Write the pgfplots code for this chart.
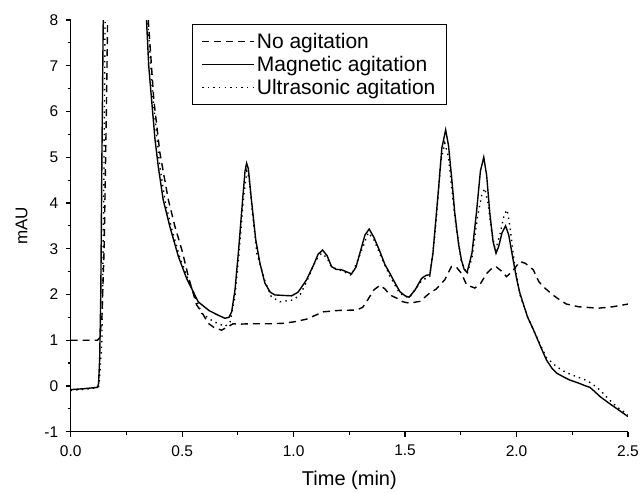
\documentclass[border=0pt]{standalone}
\usepackage{fontspec}
\setmainfont{Liberation Sans}
\usepackage{pgfplots}
\pgfplotsset{compat=1.18}
\begin{document}
\begin{tikzpicture}
\path[use as bounding box] (-70.7pt,-61.3pt) rectangle (570.3pt,431.7pt);
\begin{axis}[
  at={(0,0)}, anchor=south west,
  scale only axis, width=557.3pt, height=411.7pt,
  xmin=0, xmax=2.5, ymin=-1, ymax=8,
  axis x line=bottom, axis y line=left,
  axis line style={-, line width=1.2pt},
  tick style={line width=1.2pt, black},
  tick align=outside,
  major tick length=5pt, minor tick length=3pt,
  xtick={0,0.5,1,1.5,2,2.5}, ytick={-1,0,...,8},
  minor x tick num=1, minor y tick num=1,
  xticklabel style={/pgf/number format/fixed, /pgf/number format/precision=1, /pgf/number format/fixed zerofill, yshift=-5pt},
  yticklabel style={xshift=-4pt},
  /pgf/number format/assume math mode=true,
  ticklabel style={font=\fontsize{15.5}{18}\selectfont},
  xlabel={Time (min)}, ylabel={mAU},
  xlabel style={font=\fontsize{20}{23}\selectfont, at={(axis description cs:0.5,0)}, anchor=center, yshift=-49pt},
  ylabel style={font=\fontsize{17}{20}\selectfont, at={(axis description cs:0,0.5)}, anchor=center, yshift=49pt},
  legend style={at={(axis cs:0.544,7.914)}, anchor=north west, draw=black, line width=1pt,
     font=\fontsize{21}{25}\selectfont, inner xsep=9pt, inner ysep=7pt, row sep=2pt},
  legend cell align=left,
  legend image code/.code={\draw[#1] (0pt,0pt) -- (52pt,0pt);},
  clip=true,
]
\addplot[black, line width=1.4pt, dash pattern=on 7pt off 5pt] coordinates {
(0,1.0) (0.12,1.0) (0.13,1.05) (0.14,1.5) (0.15,3) (0.16,6) (0.167,8.5) (0.25,40) (0.33,9.5)
(0.348,8.0) (0.373,6.25) (0.40,5.1) (0.438,4.07) (0.468,3.48) (0.5,2.95) (0.53,2.35)
(0.565,1.77) (0.587,1.62) (0.617,1.37) (0.645,1.27) (0.677,1.22) (0.707,1.30) (0.729,1.36)
(0.752,1.35) (0.804,1.36) (0.9,1.36) (0.953,1.37) (1.0,1.40) (1.058,1.46) (1.1,1.55)
(1.133,1.62) (1.2,1.65) (1.283,1.66) (1.31,1.72) (1.327,1.84) (1.36,2.1) (1.387,2.2)
(1.41,2.12) (1.432,1.99) (1.462,1.92) (1.49,1.84) (1.52,1.81) (1.567,1.85) (1.61,2.03)
(1.64,2.12) (1.678,2.32) (1.708,2.61) (1.73,2.6) (1.753,2.46) (1.776,2.21) (1.813,2.14)
(1.84,2.25) (1.866,2.46) (1.895,2.6) (1.91,2.6) (1.935,2.5) (1.955,2.39) (1.98,2.5)
(2.015,2.72) (2.04,2.68) (2.075,2.54) (2.10,2.28) (2.12,2.17) (2.16,2.0) (2.194,1.88)
(2.224,1.79) (2.28,1.73) (2.366,1.70) (2.43,1.73) (2.5,1.79)
};
\addlegendentry{No agitation}
\addplot[black, line width=1.4pt] coordinates {
(0,-0.08) (0.03,-0.07) (0.06,-0.06) (0.1,-0.04) (0.12,-0.03) (0.125,0.05) (0.13,0.6)
(0.135,2) (0.14,5) (0.147,8.5) (0.2,40) (0.33,8.8)
(0.34,8.0) (0.35,7.0) (0.363,6.25) (0.378,5.4) (0.393,4.79) (0.415,4.07) (0.445,3.48)
(0.483,2.83) (0.52,2.35) (0.572,1.84) (0.62,1.65) (0.66,1.55) (0.692,1.48) (0.71,1.5)
(0.722,1.62) (0.737,2.1) (0.752,2.9) (0.77,4.0) (0.782,4.7) (0.789,4.87) (0.797,4.75)
(0.81,4.1) (0.83,3.2) (0.849,2.68) (0.871,2.25) (0.895,2.05) (0.916,1.99) (0.95,1.98)
(0.991,1.97) (1.02,2.05) (1.058,2.32) (1.09,2.65) (1.11,2.88) (1.13,2.97) (1.15,2.85)
(1.17,2.61) (1.19,2.55) (1.215,2.54) (1.26,2.45) (1.28,2.6) (1.30,2.95) (1.32,3.3)
(1.339,3.43) (1.36,3.25) (1.387,2.94) (1.41,2.65) (1.432,2.46) (1.455,2.25) (1.477,2.06)
(1.50,1.97) (1.518,1.94) (1.545,2.1) (1.574,2.35) (1.595,2.42) (1.611,2.43) (1.625,2.9)
(1.634,3.41) (1.65,4.3) (1.665,5.2) (1.682,5.6) (1.695,5.25) (1.71,4.5) (1.723,3.78)
(1.74,3.1) (1.753,2.75) (1.765,2.55) (1.778,2.48) (1.80,2.9) (1.82,3.78) (1.838,4.7)
(1.853,5.0) (1.866,4.6) (1.88,3.78) (1.895,3.15) (1.908,2.9) (1.92,3.05) (1.935,3.35)
(1.951,3.50) (1.965,3.3) (1.985,2.75) (2.0,2.35) (2.015,2.03) (2.03,1.8) (2.05,1.5)
(2.074,1.25) (2.1,0.95) (2.134,0.57) (2.16,0.38) (2.18,0.28) (2.21,0.2) (2.239,0.13)
(2.28,0.06) (2.31,0.0) (2.329,-0.03) (2.35,-0.12) (2.374,-0.23) (2.41,-0.36) (2.448,-0.49)
(2.48,-0.6) (2.5,-0.67)
};
\addlegendentry{Magnetic agitation}
\addplot[black, line width=1.4pt, dash pattern=on 1.4pt off 4.2pt] coordinates {
(0,-0.1) (0.05,-0.08) (0.1,-0.05) (0.125,-0.02) (0.13,0.2) (0.14,1) (0.148,4) (0.155,8.5)
(0.22,40) (0.33,9.2)
(0.345,8.0) (0.37,6.25) (0.40,4.79) (0.425,4.0) (0.455,3.4) (0.49,2.8) (0.53,2.3)
(0.587,1.59) (0.64,1.41) (0.692,1.30) (0.715,1.4) (0.737,1.95) (0.755,2.9) (0.775,4.1)
(0.79,4.7) (0.80,4.55) (0.815,3.8) (0.835,2.9) (0.871,2.3) (0.9,1.95) (0.939,1.84)
(0.998,1.88) (1.03,2.0) (1.06,2.3) (1.1,2.75) (1.125,2.9) (1.15,2.8) (1.17,2.6)
(1.215,2.52) (1.26,2.42) (1.3,2.9) (1.335,3.35) (1.36,3.2) (1.39,2.85) (1.432,2.4)
(1.477,2.02) (1.518,1.92) (1.574,2.3) (1.611,2.4) (1.634,3.3) (1.66,4.9) (1.678,5.31)
(1.695,5.0) (1.723,3.7) (1.753,2.7) (1.778,2.45) (1.80,2.8) (1.825,3.7) (1.845,4.2)
(1.858,4.32) (1.872,4.0) (1.888,3.4) (1.905,2.95) (1.925,3.3) (1.945,3.75) (1.958,3.85)
(1.97,3.5) (1.99,2.7) (2.015,2.0) (2.05,1.5) (2.1,0.97) (2.134,0.62) (2.18,0.42)
(2.22,0.3) (2.26,0.22) (2.3,0.15) (2.336,0.06) (2.374,-0.09) (2.41,-0.27) (2.448,-0.45)
(2.5,-0.63)
};
\addlegendentry{Ultrasonic agitation}
\end{axis}
\end{tikzpicture}
\end{document}
